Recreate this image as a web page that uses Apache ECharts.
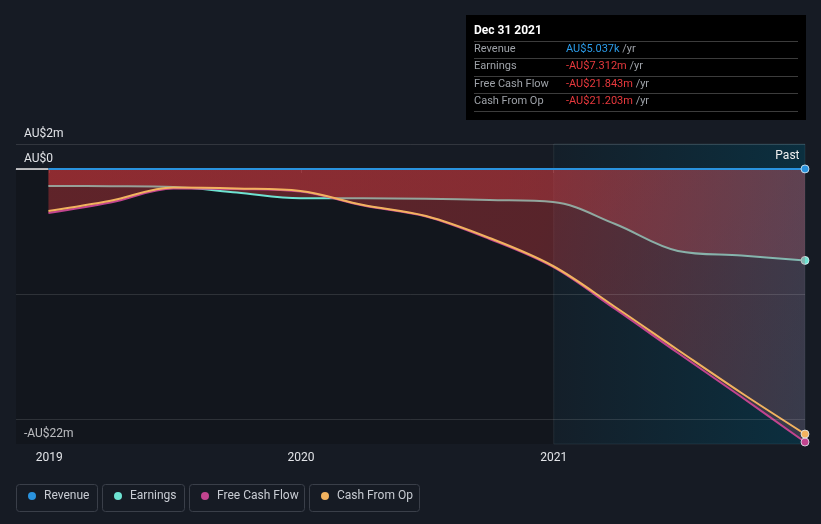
<!DOCTYPE html>
<html>
<head>
<meta charset="utf-8">
<script src="https://cdn.jsdelivr.net/npm/echarts@6/dist/echarts.min.js"></script>
<style>
html,body{margin:0;padding:0;background:#161b24;}
#c{width:821px;height:524px;}
</style>
</head>
<body>
<div id="c"></div>
<script>
// ---- data (AU$ millions) ----
const dates = ['2018-12-31','2019-03-31','2019-06-30','2019-09-30','2019-12-31','2020-03-31','2020-06-30','2020-09-30','2020-12-31','2021-03-31','2021-06-30','2021-09-30','2021-12-31'];
const revenue = [0.004,0.004,0.004,0.004,0.004,0.005,0.005,0.005,0.005,0.005,0.005,0.005,0.005037];
const earnings = [-1.36,-1.38,-1.44,-1.88,-2.34,-2.34,-2.38,-2.48,-2.64,-4.40,-6.56,-6.92,-7.312];
const freeCashFlow = [-3.52,-2.68,-1.56,-1.60,-1.80,-2.92,-3.80,-5.60,-7.84,-11.20,-14.72,-18.24,-21.843];
const cashFromOp = [-3.36,-2.54,-1.48,-1.56,-1.76,-2.88,-3.76,-5.52,-7.76,-11.04,-14.48,-17.92,-21.203];
const seriesNames = ['Revenue','Earnings','Free Cash Flow','Cash From Op'];
const seriesColors = ['#2a93de','#6ee3d2','#c2448f','#f2b35f'];
const yTickValues = [2, 0, -22];
const yTickLabels = ['AU$2m','AU$0','-AU$22m'];
const yGridValues = [2, -10, -20];
const xTickDates = ['2019-01-01','2020-01-01','2021-01-01'];
const xTickLabels = ['2019','2020','2021'];
const xMin = '2018-11-14';
const xMax = '2021-12-31';
const pastStart = '2021-01-01';
const pastLabel = 'Past';
const tipTitle = 'Dec 31 2021';
const tipValues = ['AU$5.037k','-AU$7.312m','-AU$21.843m','-AU$21.203m'];
const tipValueColors = ['#2b9be8','#e8393d','#e8393d','#e8393d'];

const ts = s => { const p = s.split('-').map(Number); return Date.UTC(p[0], p[1]-1, p[2]); };
const pts = arr => arr.map((v,i) => [ts(dates[i]), v]);
const withEndDot = (arr, color) => pts(arr).map((p,i,a) => i === a.length-1
  ? {value:p, symbol:'circle', symbolSize:8, itemStyle:{color:color, borderColor:'rgba(230,240,245,0.8)', borderWidth:1}}
  : {value:p});

const areaGrad = {type:'linear', x:0, y:0, x2:1, y2:1, colorStops:[
  {offset:0, color:'rgba(215,56,60,0.56)'},
  {offset:0.6, color:'rgba(210,60,66,0.52)'},
  {offset:1, color:'rgba(170,90,108,0.4)'}]};

const font = 'Roboto';
const chart = echarts.init(document.getElementById('c'), null, {renderer:'canvas'});

const legends = seriesNames.map((n,i) => ({
  data:[n], left:[28,114,201,321][i], top:490, padding:0,
  icon:'circle', itemWidth:8, itemHeight:8, itemGap:0, selectedMode:false,
  textStyle:{color:'#c8ccd3', fontSize:12, fontFamily:font, padding:[0,0,0,3]}
}));
const boxes = [[16,81],[102,82],[189,115],[309,110]];

const graphics = [];
boxes.forEach(b => graphics.push({type:'rect', left:b[0], top:484, z:-1,
  shape:{width:b[1], height:27, r:3}, style:{fill:'transparent', stroke:'#3a3f49', lineWidth:1}}));
graphics.push({type:'rect', left:466, top:15, shape:{width:340, height:105}, style:{fill:'#000'}});
graphics.push({type:'text', x:474, y:31, style:{text:tipTitle, fill:'#fff', font:'bold 12px Roboto', verticalAlign:'middle'}});
[41,58,76,93,111].forEach(y => graphics.push({type:'line', shape:{x1:474,y1:y+0.5,x2:798,y2:y+0.5}, style:{stroke:'#3c3c3c', lineWidth:1}}));
const rowY = [49,66.5,84,101.5];
seriesNames.forEach((n,i) => {
  graphics.push({type:'text', x:474, y:rowY[i], style:{text:n, fill:'#9ea2a8', font:'11px Roboto', verticalAlign:'middle'}});
  graphics.push({type:'text', x:566, y:rowY[i], style:{
    text:'{v|'+tipValues[i]+'} {u|/yr}', verticalAlign:'middle', font:'11px Roboto',
    rich:{v:{fill:tipValueColors[i], font:'11px Roboto'}, u:{fill:'#9ea2a8', font:'11px Roboto'}}}});
});

const xTicks = xTickDates.map(ts);
const smoothVal = 0.35;
const option = {
  backgroundColor:'#161b24',
  animation:false,
  textStyle:{fontFamily:font},
  grid:{left:16, right:16, top:144, bottom:80},
  legend: legends,
  graphic: graphics,
  xAxis:{
    type:'value', min:ts(xMin), max:ts(xMax),
    axisLine:{show:true, lineStyle:{color:'#4a4f59', width:1}},
    axisTick:{show:true, customValues:xTicks, length:4, lineStyle:{color:'#4a4f59'}},
    axisLabel:{customValues:xTicks, color:'#e2e4e8', fontSize:12, margin:8,
      formatter:v => xTickLabels[xTicks.indexOf(v)] || ''},
    splitLine:{show:false}
  },
  yAxis:{
    type:'value', min:-22, max:2,
    axisLine:{show:false}, axisTick:{show:false}, splitLine:{show:false},
    axisLabel:{customValues:yTickValues, inside:true, margin:8, color:'#e2e4e8', fontSize:12,
      verticalAlign:'bottom', padding:[0,0,4,0],
      formatter:v => yTickLabels[yTickValues.indexOf(v)] || ''}
  },
  series:[
    {name:'_grid', type:'line', data:[], z:1, silent:true,
     markLine:{silent:true, symbol:'none', label:{show:false},
       data: yGridValues.map(v => ({yAxis:v, lineStyle:{color:'rgba(255,255,255,0.12)', width:1, type:'solid'}}))
         .concat([[{coord:[ts(xMin),0], lineStyle:{color:'#e8e8e8', width:1.5, type:'solid'}}, {coord:[ts(dates[0]),0]}]])},
     markArea:{silent:true, data:[
       [{xAxis:ts(xMin), yAxis:0, itemStyle:{color:'rgba(0,0,0,0.18)'}, label:{show:false}}, {xAxis:ts(pastStart), yAxis:-22}],
       [{name:pastLabel, xAxis:ts(pastStart), yAxis:2, itemStyle:{
          color:{type:'linear', x:0,y:0,x2:1,y2:0, colorStops:[{offset:0,color:'rgba(5,58,78,0.12)'},{offset:1,color:'rgba(5,58,78,0.65)'}]},
          borderColor:'rgba(140,170,180,0.12)', borderWidth:1},
         label:{show:true, position:'insideTopRight', color:'#f0f0f0', fontSize:12, fontFamily:font, distance:6}},
        {xAxis:ts(xMax), yAxis:-22}]
     ]}},
    {name:'Earnings', type:'line', z:2, data:withEndDot(earnings, seriesColors[1]), symbol:'none', smooth:smoothVal,
     color:seriesColors[1], lineStyle:{color:seriesColors[1], width:2}, areaStyle:{color:areaGrad, origin:0}},
    {name:'Free Cash Flow', type:'line', z:3, data:withEndDot(freeCashFlow, seriesColors[2]), symbol:'none', smooth:smoothVal,
     color:seriesColors[2], lineStyle:{color:seriesColors[2], width:2}, areaStyle:{color:areaGrad, origin:0}},
    {name:'Cash From Op', type:'line', z:4, data:withEndDot(cashFromOp, seriesColors[3]), symbol:'none', smooth:smoothVal,
     color:seriesColors[3], lineStyle:{color:seriesColors[3], width:2}},
    {name:'Revenue', type:'line', z:5, data:withEndDot(revenue, seriesColors[0]), symbol:'none', smooth:smoothVal,
     color:seriesColors[0], lineStyle:{color:seriesColors[0], width:2}}
  ]
};
chart.setOption(option);
</script>
</body>
</html>
